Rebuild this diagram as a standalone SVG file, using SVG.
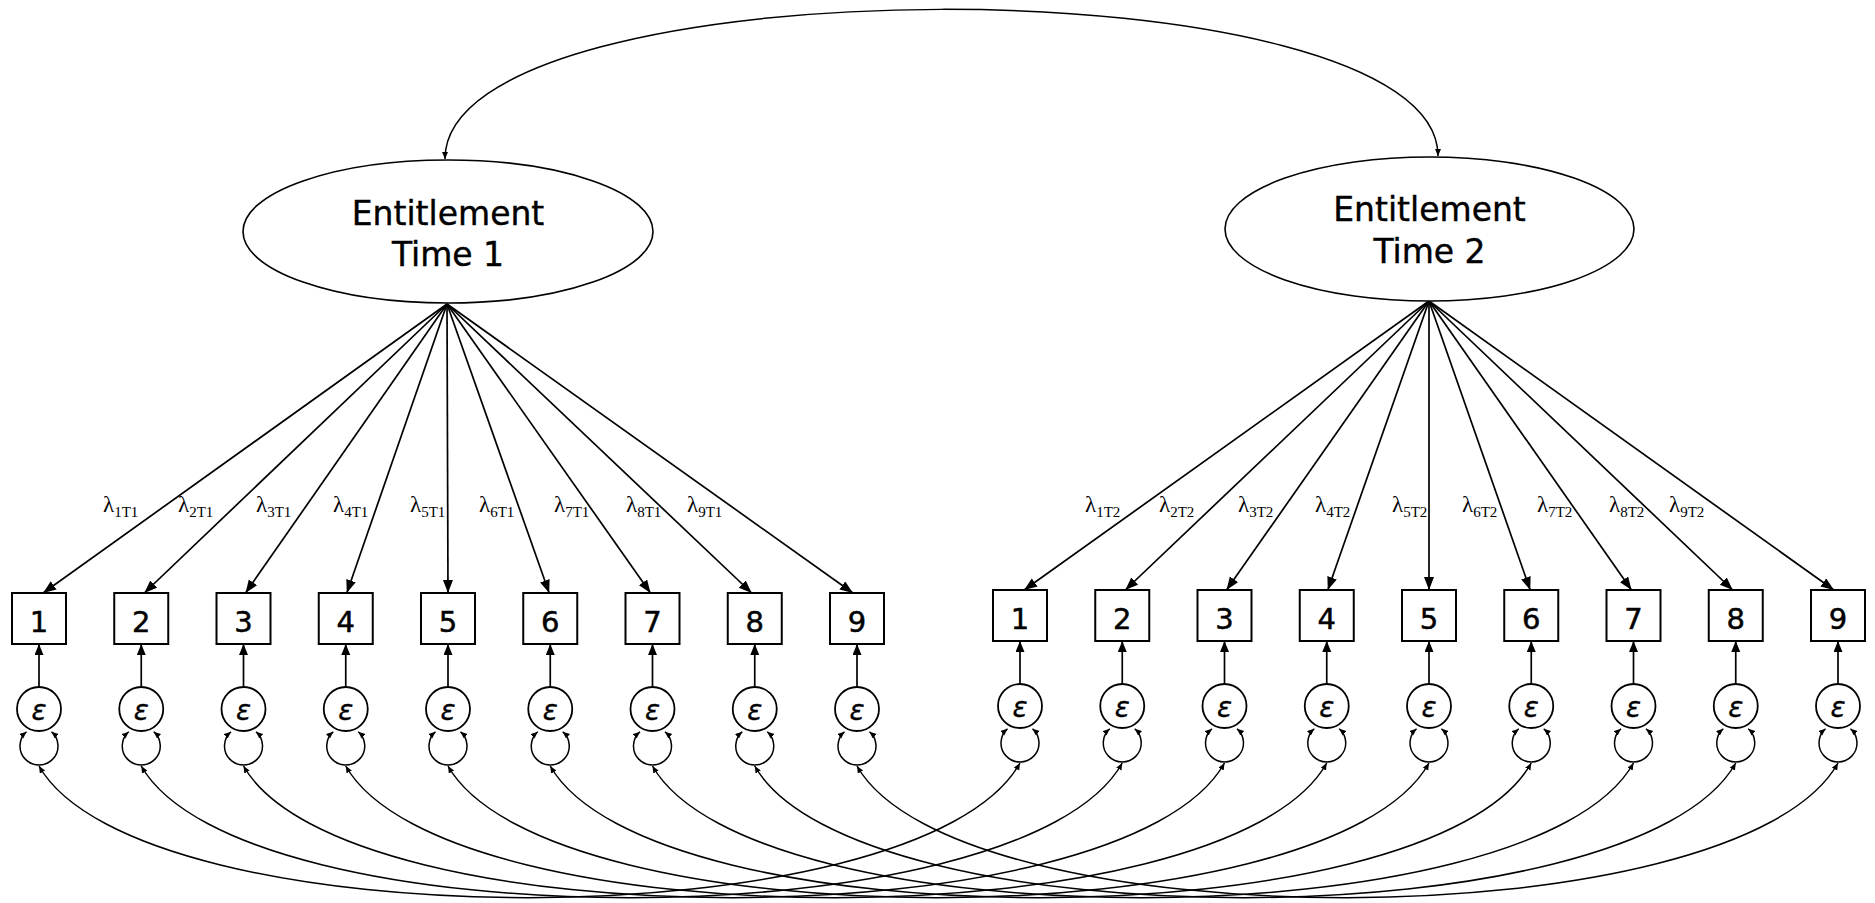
<svg xmlns="http://www.w3.org/2000/svg" width="1875" height="903" viewBox="0 0 1875 903">
<style>
.bg{fill:#ffffff}
.lat{fill:#ffffff;stroke:#000;stroke-width:1.6}
.box{fill:#ffffff;stroke:#000;stroke-width:2}
.err{fill:#ffffff;stroke:#000;stroke-width:1.8}
.ln{fill:none;stroke:#000;stroke-width:1.7}
.thin{fill:none;stroke:#000;stroke-width:1.5}
.lt{font-family:"DejaVu Sans",Verdana,sans-serif;font-size:33px;text-anchor:middle;fill:#000;stroke:#000;stroke-width:0.4}
.num{font-family:"DejaVu Sans",Verdana,sans-serif;font-size:29px;text-anchor:middle;fill:#000;stroke:#000;stroke-width:0.5}
.eps{font-family:"DejaVu Sans",sans-serif;font-style:italic;font-size:28px;text-anchor:middle;fill:#000;stroke:#000;stroke-width:0.3}
.lam{font-family:"Liberation Serif","Times New Roman",serif;font-size:23px;fill:#000}
.sub{font-size:15px}
</style>
<defs>
<marker id="big" markerUnits="userSpaceOnUse" markerWidth="14" markerHeight="11" refX="13" refY="5" orient="auto"><path d="M0,0 L13,5 L0,10 z" fill="#000"/></marker>
<marker id="med" markerUnits="userSpaceOnUse" markerWidth="12" markerHeight="10" refX="11" refY="4.5" orient="auto"><path d="M0,0 L11,4.5 L0,9 z" fill="#000"/></marker>
<marker id="sm" markerUnits="userSpaceOnUse" markerWidth="8" markerHeight="7" refX="7" refY="3" orient="auto-start-reverse"><path d="M0,0 L7,3 L0,6 z" fill="#000"/></marker>
</defs>
<rect class="bg" x="0" y="0" width="1875" height="903"/>

<g id="connectors">
<!-- latent covariance -->
<path class="thin" d="M445,159 C445,-40 1438,-40 1438,156" marker-start="url(#sm)" marker-end="url(#sm)"/>
<!-- loadings T1 -->
<line class="ln" x1="447" y1="304" x2="43.1" y2="593" marker-end="url(#big)"/>
<line class="ln" x1="447" y1="304" x2="144.3" y2="593" marker-end="url(#big)"/>
<line class="ln" x1="447" y1="304" x2="245.5" y2="593" marker-end="url(#big)"/>
<line class="ln" x1="447" y1="304" x2="346.8" y2="593" marker-end="url(#big)"/>
<line class="ln" x1="447" y1="304" x2="448" y2="593" marker-end="url(#big)"/>
<line class="ln" x1="447" y1="304" x2="549.2" y2="593" marker-end="url(#big)"/>
<line class="ln" x1="447" y1="304" x2="650.5" y2="593" marker-end="url(#big)"/>
<line class="ln" x1="447" y1="304" x2="751.7" y2="593" marker-end="url(#big)"/>
<line class="ln" x1="447" y1="304" x2="852.9" y2="593" marker-end="url(#big)"/>
<!-- loadings T2 -->
<line class="ln" x1="1429" y1="301" x2="1024.1" y2="590" marker-end="url(#big)"/>
<line class="ln" x1="1429" y1="301" x2="1125.3" y2="590" marker-end="url(#big)"/>
<line class="ln" x1="1429" y1="301" x2="1226.5" y2="590" marker-end="url(#big)"/>
<line class="ln" x1="1429" y1="301" x2="1327.8" y2="590" marker-end="url(#big)"/>
<line class="ln" x1="1429" y1="301" x2="1429" y2="590" marker-end="url(#big)"/>
<line class="ln" x1="1429" y1="301" x2="1530.2" y2="590" marker-end="url(#big)"/>
<line class="ln" x1="1429" y1="301" x2="1631.5" y2="590" marker-end="url(#big)"/>
<line class="ln" x1="1429" y1="301" x2="1732.7" y2="590" marker-end="url(#big)"/>
<line class="ln" x1="1429" y1="301" x2="1833.9" y2="590" marker-end="url(#big)"/>
<!-- error to item T1 -->
<line class="ln" x1="39" y1="687" x2="39" y2="644" marker-end="url(#med)"/>
<line class="ln" x1="141.25" y1="687" x2="141.25" y2="644" marker-end="url(#med)"/>
<line class="ln" x1="243.5" y1="687" x2="243.5" y2="644" marker-end="url(#med)"/>
<line class="ln" x1="345.75" y1="687" x2="345.75" y2="644" marker-end="url(#med)"/>
<line class="ln" x1="448" y1="687" x2="448" y2="644" marker-end="url(#med)"/>
<line class="ln" x1="550.25" y1="687" x2="550.25" y2="644" marker-end="url(#med)"/>
<line class="ln" x1="652.5" y1="687" x2="652.5" y2="644" marker-end="url(#med)"/>
<line class="ln" x1="754.75" y1="687" x2="754.75" y2="644" marker-end="url(#med)"/>
<line class="ln" x1="857" y1="687" x2="857" y2="644" marker-end="url(#med)"/>
<!-- error to item T2 -->
<line class="ln" x1="1020" y1="684" x2="1020" y2="641" marker-end="url(#med)"/>
<line class="ln" x1="1122.25" y1="684" x2="1122.25" y2="641" marker-end="url(#med)"/>
<line class="ln" x1="1224.5" y1="684" x2="1224.5" y2="641" marker-end="url(#med)"/>
<line class="ln" x1="1326.75" y1="684" x2="1326.75" y2="641" marker-end="url(#med)"/>
<line class="ln" x1="1429" y1="684" x2="1429" y2="641" marker-end="url(#med)"/>
<line class="ln" x1="1531.25" y1="684" x2="1531.25" y2="641" marker-end="url(#med)"/>
<line class="ln" x1="1633.5" y1="684" x2="1633.5" y2="641" marker-end="url(#med)"/>
<line class="ln" x1="1735.75" y1="684" x2="1735.75" y2="641" marker-end="url(#med)"/>
<line class="ln" x1="1838" y1="684" x2="1838" y2="641" marker-end="url(#med)"/>
<!-- variance loops T1 -->
<path class="thin" d="M26.5,731.7 A19,19 0 1 0 51.5,731.7" marker-start="url(#sm)" marker-end="url(#sm)"/>
<path class="thin" d="M128.75,731.7 A19,19 0 1 0 153.75,731.7" marker-start="url(#sm)" marker-end="url(#sm)"/>
<path class="thin" d="M231,731.7 A19,19 0 1 0 256,731.7" marker-start="url(#sm)" marker-end="url(#sm)"/>
<path class="thin" d="M333.25,731.7 A19,19 0 1 0 358.25,731.7" marker-start="url(#sm)" marker-end="url(#sm)"/>
<path class="thin" d="M435.5,731.7 A19,19 0 1 0 460.5,731.7" marker-start="url(#sm)" marker-end="url(#sm)"/>
<path class="thin" d="M537.75,731.7 A19,19 0 1 0 562.75,731.7" marker-start="url(#sm)" marker-end="url(#sm)"/>
<path class="thin" d="M640,731.7 A19,19 0 1 0 665,731.7" marker-start="url(#sm)" marker-end="url(#sm)"/>
<path class="thin" d="M742.25,731.7 A19,19 0 1 0 767.25,731.7" marker-start="url(#sm)" marker-end="url(#sm)"/>
<path class="thin" d="M844.5,731.7 A19,19 0 1 0 869.5,731.7" marker-start="url(#sm)" marker-end="url(#sm)"/>
<!-- variance loops T2 -->
<path class="thin" d="M1007.5,728.7 A19,19 0 1 0 1032.5,728.7" marker-start="url(#sm)" marker-end="url(#sm)"/>
<path class="thin" d="M1109.75,728.7 A19,19 0 1 0 1134.75,728.7" marker-start="url(#sm)" marker-end="url(#sm)"/>
<path class="thin" d="M1212,728.7 A19,19 0 1 0 1237,728.7" marker-start="url(#sm)" marker-end="url(#sm)"/>
<path class="thin" d="M1314.25,728.7 A19,19 0 1 0 1339.25,728.7" marker-start="url(#sm)" marker-end="url(#sm)"/>
<path class="thin" d="M1416.5,728.7 A19,19 0 1 0 1441.5,728.7" marker-start="url(#sm)" marker-end="url(#sm)"/>
<path class="thin" d="M1518.75,728.7 A19,19 0 1 0 1543.75,728.7" marker-start="url(#sm)" marker-end="url(#sm)"/>
<path class="thin" d="M1621,728.7 A19,19 0 1 0 1646,728.7" marker-start="url(#sm)" marker-end="url(#sm)"/>
<path class="thin" d="M1723.25,728.7 A19,19 0 1 0 1748.25,728.7" marker-start="url(#sm)" marker-end="url(#sm)"/>
<path class="thin" d="M1825.5,728.7 A19,19 0 1 0 1850.5,728.7" marker-start="url(#sm)" marker-end="url(#sm)"/>
<!-- error covariances T1-T2 -->
<path class="thin" d="M39,766 C139,942 920,942 1020,763" marker-start="url(#sm)" marker-end="url(#sm)"/>
<path class="thin" d="M141.25,766 C241.25,942 1022.25,942 1122.25,763" marker-start="url(#sm)" marker-end="url(#sm)"/>
<path class="thin" d="M243.5,766 C343.5,942 1124.5,942 1224.5,763" marker-start="url(#sm)" marker-end="url(#sm)"/>
<path class="thin" d="M345.75,766 C445.75,942 1226.75,942 1326.75,763" marker-start="url(#sm)" marker-end="url(#sm)"/>
<path class="thin" d="M448,766 C548,942 1329,942 1429,763" marker-start="url(#sm)" marker-end="url(#sm)"/>
<path class="thin" d="M550.25,766 C650.25,942 1431.25,942 1531.25,763" marker-start="url(#sm)" marker-end="url(#sm)"/>
<path class="thin" d="M652.5,766 C752.5,942 1533.5,942 1633.5,763" marker-start="url(#sm)" marker-end="url(#sm)"/>
<path class="thin" d="M754.75,766 C854.75,942 1635.75,942 1735.75,763" marker-start="url(#sm)" marker-end="url(#sm)"/>
<path class="thin" d="M857,766 C957,942 1738,942 1838,763" marker-start="url(#sm)" marker-end="url(#sm)"/>
<!-- loading labels -->
<text class="lam" x="103" y="512">λ<tspan class="sub" dy="5">1T1</tspan></text>
<text class="lam" x="178" y="512">λ<tspan class="sub" dy="5">2T1</tspan></text>
<text class="lam" x="256" y="512">λ<tspan class="sub" dy="5">3T1</tspan></text>
<text class="lam" x="333" y="512">λ<tspan class="sub" dy="5">4T1</tspan></text>
<text class="lam" x="410" y="512">λ<tspan class="sub" dy="5">5T1</tspan></text>
<text class="lam" x="479" y="512">λ<tspan class="sub" dy="5">6T1</tspan></text>
<text class="lam" x="554" y="512">λ<tspan class="sub" dy="5">7T1</tspan></text>
<text class="lam" x="626" y="512">λ<tspan class="sub" dy="5">8T1</tspan></text>
<text class="lam" x="687" y="512">λ<tspan class="sub" dy="5">9T1</tspan></text>
<text class="lam" x="1085" y="512">λ<tspan class="sub" dy="5">1T2</tspan></text>
<text class="lam" x="1159" y="512">λ<tspan class="sub" dy="5">2T2</tspan></text>
<text class="lam" x="1238" y="512">λ<tspan class="sub" dy="5">3T2</tspan></text>
<text class="lam" x="1315" y="512">λ<tspan class="sub" dy="5">4T2</tspan></text>
<text class="lam" x="1392" y="512">λ<tspan class="sub" dy="5">5T2</tspan></text>
<text class="lam" x="1462" y="512">λ<tspan class="sub" dy="5">6T2</tspan></text>
<text class="lam" x="1537" y="512">λ<tspan class="sub" dy="5">7T2</tspan></text>
<text class="lam" x="1609" y="512">λ<tspan class="sub" dy="5">8T2</tspan></text>
<text class="lam" x="1669" y="512">λ<tspan class="sub" dy="5">9T2</tspan></text>
</g>

<g id="lat1"><ellipse class="lat" cx="448" cy="231.5" rx="205" ry="71.5"/><text class="lt" x="448" y="225">Entitlement</text><text class="lt" x="448" y="266">Time 1</text></g>
<g id="lat2"><ellipse class="lat" cx="1429.5" cy="229" rx="204.5" ry="72"/><text class="lt" x="1429.5" y="221">Entitlement</text><text class="lt" x="1429.5" y="263">Time 2</text></g>

<g id="t1_items">
<g id="x1_t1"><rect class="box" x="12" y="593" width="54" height="51"/><text class="num" x="39" y="632">1</text></g>
<g id="x2_t1"><rect class="box" x="114.25" y="593" width="54" height="51"/><text class="num" x="141.25" y="632">2</text></g>
<g id="x3_t1"><rect class="box" x="216.5" y="593" width="54" height="51"/><text class="num" x="243.5" y="632">3</text></g>
<g id="x4_t1"><rect class="box" x="318.75" y="593" width="54" height="51"/><text class="num" x="345.75" y="632">4</text></g>
<g id="x5_t1"><rect class="box" x="421" y="593" width="54" height="51"/><text class="num" x="448" y="632">5</text></g>
<g id="x6_t1"><rect class="box" x="523.25" y="593" width="54" height="51"/><text class="num" x="550.25" y="632">6</text></g>
<g id="x7_t1"><rect class="box" x="625.5" y="593" width="54" height="51"/><text class="num" x="652.5" y="632">7</text></g>
<g id="x8_t1"><rect class="box" x="727.75" y="593" width="54" height="51"/><text class="num" x="754.75" y="632">8</text></g>
<g id="x9_t1"><rect class="box" x="830" y="593" width="54" height="51"/><text class="num" x="857" y="632">9</text></g>
</g>
<g id="t2_items">
<g id="x1_t2"><rect class="box" x="993" y="590" width="54" height="51"/><text class="num" x="1020" y="629">1</text></g>
<g id="x2_t2"><rect class="box" x="1095.25" y="590" width="54" height="51"/><text class="num" x="1122.25" y="629">2</text></g>
<g id="x3_t2"><rect class="box" x="1197.5" y="590" width="54" height="51"/><text class="num" x="1224.5" y="629">3</text></g>
<g id="x4_t2"><rect class="box" x="1299.75" y="590" width="54" height="51"/><text class="num" x="1326.75" y="629">4</text></g>
<g id="x5_t2"><rect class="box" x="1402" y="590" width="54" height="51"/><text class="num" x="1429" y="629">5</text></g>
<g id="x6_t2"><rect class="box" x="1504.25" y="590" width="54" height="51"/><text class="num" x="1531.25" y="629">6</text></g>
<g id="x7_t2"><rect class="box" x="1606.5" y="590" width="54" height="51"/><text class="num" x="1633.5" y="629">7</text></g>
<g id="x8_t2"><rect class="box" x="1708.75" y="590" width="54" height="51"/><text class="num" x="1735.75" y="629">8</text></g>
<g id="x9_t2"><rect class="box" x="1811" y="590" width="54" height="51"/><text class="num" x="1838" y="629">9</text></g>
</g>
<g id="t1_errors">
<g id="e1_t1"><circle class="err" cx="39" cy="709" r="22"/><text class="eps" x="39" y="720">ε</text></g>
<g id="e2_t1"><circle class="err" cx="141.25" cy="709" r="22"/><text class="eps" x="141.25" y="720">ε</text></g>
<g id="e3_t1"><circle class="err" cx="243.5" cy="709" r="22"/><text class="eps" x="243.5" y="720">ε</text></g>
<g id="e4_t1"><circle class="err" cx="345.75" cy="709" r="22"/><text class="eps" x="345.75" y="720">ε</text></g>
<g id="e5_t1"><circle class="err" cx="448" cy="709" r="22"/><text class="eps" x="448" y="720">ε</text></g>
<g id="e6_t1"><circle class="err" cx="550.25" cy="709" r="22"/><text class="eps" x="550.25" y="720">ε</text></g>
<g id="e7_t1"><circle class="err" cx="652.5" cy="709" r="22"/><text class="eps" x="652.5" y="720">ε</text></g>
<g id="e8_t1"><circle class="err" cx="754.75" cy="709" r="22"/><text class="eps" x="754.75" y="720">ε</text></g>
<g id="e9_t1"><circle class="err" cx="857" cy="709" r="22"/><text class="eps" x="857" y="720">ε</text></g>
</g>
<g id="t2_errors">
<g id="e1_t2"><circle class="err" cx="1020" cy="706" r="22"/><text class="eps" x="1020" y="717">ε</text></g>
<g id="e2_t2"><circle class="err" cx="1122.25" cy="706" r="22"/><text class="eps" x="1122.25" y="717">ε</text></g>
<g id="e3_t2"><circle class="err" cx="1224.5" cy="706" r="22"/><text class="eps" x="1224.5" y="717">ε</text></g>
<g id="e4_t2"><circle class="err" cx="1326.75" cy="706" r="22"/><text class="eps" x="1326.75" y="717">ε</text></g>
<g id="e5_t2"><circle class="err" cx="1429" cy="706" r="22"/><text class="eps" x="1429" y="717">ε</text></g>
<g id="e6_t2"><circle class="err" cx="1531.25" cy="706" r="22"/><text class="eps" x="1531.25" y="717">ε</text></g>
<g id="e7_t2"><circle class="err" cx="1633.5" cy="706" r="22"/><text class="eps" x="1633.5" y="717">ε</text></g>
<g id="e8_t2"><circle class="err" cx="1735.75" cy="706" r="22"/><text class="eps" x="1735.75" y="717">ε</text></g>
<g id="e9_t2"><circle class="err" cx="1838" cy="706" r="22"/><text class="eps" x="1838" y="717">ε</text></g>
</g>
</svg>
